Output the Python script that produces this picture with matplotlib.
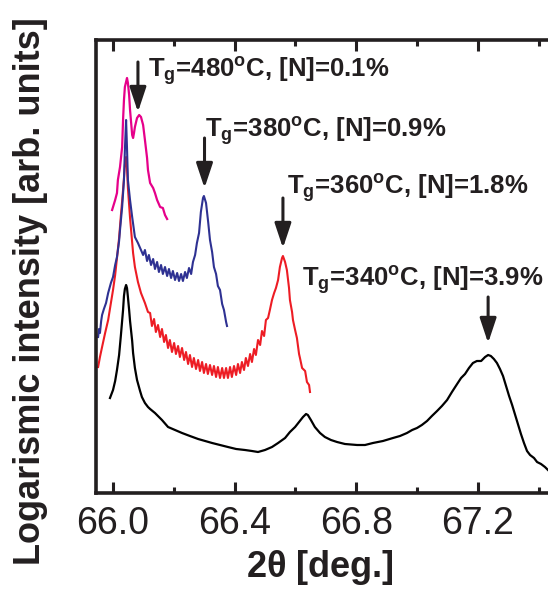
import matplotlib
matplotlib.use("Agg")
import matplotlib.pyplot as plt

plt.rcParams["font.family"] = ["Liberation Sans", "DejaVu Sans"]
plt.rcParams["mathtext.fontset"] = "custom"
plt.rcParams["mathtext.rm"] = "Liberation Sans:bold"
plt.rcParams["mathtext.bf"] = "Liberation Sans:bold"
plt.rcParams["mathtext.it"] = "Liberation Sans:bold"

# ---------------- data (2theta in deg, log intensity in arb. units) ----------------
x_340 = [65.990, 66.000, 66.007, 66.013, 66.020, 66.026, 66.033, 66.036, 66.039, 66.043,
         66.046, 66.049, 66.053, 66.056, 66.063, 66.066, 66.072, 66.079, 66.089, 66.095,
         66.105, 66.115, 66.122, 66.138, 66.161, 66.181, 66.204, 66.227, 66.253, 66.280,
         66.303, 66.326, 66.352, 66.378, 66.405, 66.434, 66.457, 66.477, 66.500, 66.523,
         66.543, 66.566, 66.582, 66.599, 66.612, 66.625, 66.635, 66.641, 66.651, 66.664,
         66.681, 66.697, 66.717, 66.737, 66.763, 66.803, 66.829, 66.855, 66.888, 66.921,
         66.944, 66.967, 66.984, 67.000, 67.016, 67.033, 67.049, 67.066, 67.082, 67.099,
         67.115, 67.132, 67.145, 67.158, 67.171, 67.184, 67.197, 67.211, 67.224, 67.234,
         67.243, 67.253, 67.263, 67.273, 67.283, 67.293, 67.303, 67.313, 67.322, 67.332,
         67.342, 67.352, 67.362, 67.372, 67.385, 67.395, 67.408, 67.421, 67.431]
y_340 = [95, 103, 112, 123, 138, 158, 183, 197, 204, 208,
         205, 196, 183, 172, 152, 140, 125, 113, 102, 96,
         90, 86, 84, 80, 73, 66, 63, 60, 57, 54,
         52, 50, 48, 46, 44, 43, 42, 41, 43, 46,
         50, 55, 61, 66, 71, 76, 79, 78, 73, 66,
         60, 56, 53, 51, 49, 48, 48, 50, 52, 55,
         57, 60, 63, 65, 68, 72, 77, 82, 87, 93,
         101, 109, 115, 119, 125, 130, 132, 132, 136, 138,
         137, 134, 130, 124, 117, 107, 97, 88, 79, 69,
         59, 50, 42, 38, 35, 31, 29, 26, 23]

x_360 = [65.951, 65.957, 65.964, 65.974, 65.984, 65.993, 66.000, 66.007, 66.013, 66.020,
         66.026, 66.030, 66.033, 66.036, 66.039, 66.043, 66.046, 66.049, 66.056, 66.066,
         66.072, 66.082, 66.092, 66.105, 66.115,
         66.122, 66.128, 66.135, 66.141, 66.148, 66.155, 66.161, 66.168, 66.174, 66.181,
         66.187, 66.194, 66.201, 66.207, 66.214, 66.220, 66.227, 66.234, 66.240, 66.247,
         66.253, 66.260, 66.266, 66.273, 66.280, 66.286, 66.293, 66.299, 66.306, 66.312,
         66.319, 66.326, 66.332, 66.339, 66.345, 66.352, 66.359, 66.365, 66.372, 66.378,
         66.385, 66.391, 66.398, 66.405, 66.411, 66.418, 66.424, 66.431, 66.437, 66.444,
         66.451, 66.457, 66.464, 66.470, 66.477, 66.484, 66.490, 66.497, 66.503,
         66.510, 66.516, 66.523, 66.530, 66.536, 66.543, 66.549, 66.556, 66.559, 66.566,
         66.572, 66.579, 66.582, 66.589, 66.592, 66.599, 66.605, 66.612, 66.615, 66.622,
         66.632, 66.638, 66.645, 66.648]
y_360 = [126, 136, 146, 160, 173, 190, 203, 218, 235, 255,
         278, 292, 303, 315, 328, 336, 325, 305, 275, 240,
         226, 211, 200, 190, 181,
         180, 167, 174, 161, 168, 156, 164, 151, 158, 145,
         153, 141, 150, 139, 147, 136, 145, 133, 141, 129,
         138, 126, 135, 124, 133, 122, 131, 120, 129, 119,
         128, 118, 127, 116, 126, 115, 125, 115, 125, 115,
         126, 116, 127, 118, 129, 120, 131, 123, 135, 127,
         139, 131, 144, 138, 153, 148, 162, 157, 173,
         175, 183, 193, 200, 205, 213, 226, 235, 237, 231,
         223, 205, 193, 181, 173, 163, 155, 139, 135, 125,
         122, 111, 108, 101]

x_380 = [65.951, 65.954, 65.957, 65.961, 65.964, 65.970, 65.977, 65.984, 65.993, 66.000,
         66.007, 66.013, 66.020, 66.023, 66.030, 66.036, 66.039, 66.043, 66.046, 66.049,
         66.056, 66.063, 66.072, 66.082, 66.092,
         66.099, 66.105, 66.112, 66.118, 66.125, 66.132, 66.138, 66.145, 66.151, 66.158,
         66.164, 66.171, 66.178, 66.184, 66.191, 66.197, 66.204, 66.211, 66.217, 66.224,
         66.230, 66.237, 66.243, 66.250, 66.257, 66.263,
         66.270, 66.276, 66.283, 66.289, 66.296, 66.299, 66.306, 66.313, 66.319, 66.326,
         66.332, 66.339, 66.345, 66.352, 66.359, 66.365, 66.372, 66.375]
y_380 = [156, 164, 160, 172, 178, 184, 190, 200, 210, 216,
         228, 236, 252, 263, 286, 313, 343, 373, 345, 313,
         293, 276, 256, 250, 243,
         238, 243, 232, 238, 228, 234, 224, 231, 221, 228,
         219, 226, 217, 224, 215, 222, 213, 220, 212, 219,
         212, 221, 215, 225, 219, 231,
         238, 250, 260, 281, 295, 297, 290, 271, 253, 241,
         226, 219, 207, 203, 189, 183, 171, 167]

x_480 = [65.997, 66.007, 66.013, 66.016, 66.023, 66.030, 66.033, 66.036, 66.039, 66.046,
         66.049, 66.053, 66.056, 66.063, 66.066, 66.069, 66.072, 66.079, 66.086, 66.092,
         66.099, 66.105, 66.112, 66.115, 66.122, 66.132, 66.138, 66.145, 66.155, 66.164,
         66.171, 66.178]
y_480 = [283, 293, 300, 313, 326, 346, 373, 393, 406, 415,
         410, 398, 383, 358, 355, 360, 366, 375, 378, 376,
         368, 353, 335, 323, 310, 305, 300, 293, 286, 285,
         278, 274]

labels = [r"T$_\mathbf{g}$=480$^\mathbf{o}$C, [N]=0.1%",
          r"T$_\mathbf{g}$=380$^\mathbf{o}$C, [N]=0.9%",
          r"T$_\mathbf{g}$=360$^\mathbf{o}$C, [N]=1.8%",
          r"T$_\mathbf{g}$=340$^\mathbf{o}$C, [N]=3.9%"]
label_x = [66.115, 66.303, 66.572, 66.622]
label_y = [415, 355, 298, 206]
# arrows: position, tail, tip (data units)
arrow_x = [66.082, 66.301, 66.559, 67.234]
arrow_tail = [431, 355, 295, 196]
arrow_tip = [381, 305, 245, 150]

xticks_major = [66.0, 66.4, 66.8, 67.2]
xticks_minor = [66.2, 66.6, 67.0, 67.4]
xticklabels = ["66.0", "66.4", "66.8", "67.2"]

# ---------------- figure ----------------
W, H = 548, 595
fig = plt.figure(figsize=(W / 100, H / 100), dpi=100)
ax = fig.add_axes([96 / W, (H - 493) / H, 1 - 96 / W, (493 - 40) / H])

ax.plot(x_340, y_340, color="black", lw=1.6)
ax.plot(x_360, y_360, color="#ED1C24", lw=1.5)
ax.plot(x_380, y_380, color="#2E3192", lw=1.5)
ax.plot(x_480, y_480, color="#E6008A", lw=1.6)

for t, tx, ty in zip(labels, label_x, label_y):
    ax.text(tx, ty, t, fontsize=18.5, fontweight="bold",
            ha="left", va="baseline", color="#231F20")

for axx, t0, t1 in zip(arrow_x, arrow_tail, arrow_tip):
    ax.annotate("", xy=(axx, t1), xytext=(axx, t0),
                arrowprops=dict(arrowstyle="-|>,head_length=0.75,head_width=0.25",
                                mutation_scale=20, lw=2.2, color="#231F20",
                                shrinkA=0, shrinkB=0))

ax.set_xlim(65.944, 67.431)
ax.set_ylim(0, 453)
ax.set_xticks(xticks_major)
ax.set_xticklabels(xticklabels)
ax.set_xticks(xticks_minor, minor=True)
ax.set_yticks([])
ax.tick_params(axis="x", which="both", direction="in", top=True, bottom=True,
               labelsize=27, pad=9, colors="#231F20")
ax.tick_params(axis="x", which="major", length=8, width=2.2)
ax.tick_params(axis="x", which="minor", length=4, width=2.2)
for s in ["left", "top", "bottom"]:
    ax.spines[s].set_linewidth(2.6)
    ax.spines[s].set_color("#231F20")
ax.spines["right"].set_visible(False)

ax.set_xlabel(r"2$\mathbf{\theta}$ [deg.]", fontsize=26, fontweight="bold", color="#231F20")
ax.xaxis.set_label_coords((320 - 96) / 452, (493 - 548) / 453)
ax.set_ylabel("Logarismic intensity [arb. units]", fontsize=26, fontweight="bold",
              color="#231F20")
ax.yaxis.set_label_coords((48 - 96) / 452, (493 - 291) / 453)

fig.savefig("out.png", dpi=100, facecolor="white")
